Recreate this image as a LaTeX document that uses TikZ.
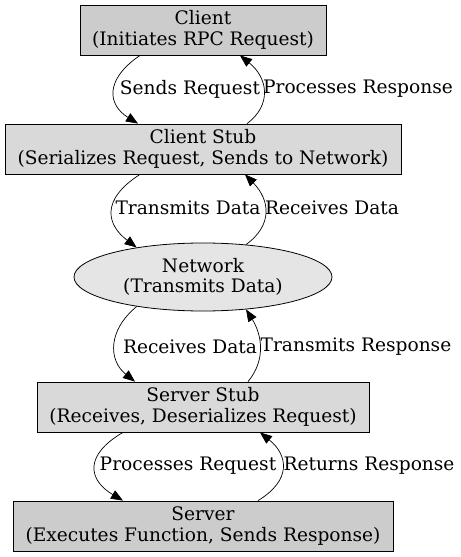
\documentclass[tikz,border=0pt]{standalone}
\usepackage{fontspec}
\setmainfont{DejaVu Serif}
\usetikzlibrary{shapes.geometric,arrows.meta}
\begin{document}
\begin{tikzpicture}[x=1bp,y=-1bp,
  every node/.style={font=\fontsize{18.6bp}{20.5bp}\selectfont, align=center},
  boxnode/.style={draw, line width=0.8pt, inner sep=0pt, minimum height=50bp},
  lbl/.style={inner sep=1pt},
  conn/.style={line width=0.7pt, -{Triangle[length=12bp,width=9.5bp]}}]
\useasboundingbox (0,0) rectangle (461,557);
\node[boxnode, fill=black!20, minimum width=246bp] (client) at (203,30) {Client\\(Initiates RPC Request)};
\node[boxnode, fill=black!15, minimum width=396bp] (cstub) at (203,149) {Client Stub\\(Serializes Request, Sends to Network)};
\node[draw, line width=0.8pt, ellipse, fill=black!10, inner sep=0pt, minimum width=258bp, minimum height=68bp] (net) at (203,277) {Network\\(Transmits Data)};
\node[boxnode, fill=black!15, minimum width=332bp] (sstub) at (203,407) {Server Stub\\(Receives, Deserializes Request)};
\node[boxnode, fill=black!20, minimum width=380bp] (server) at (203,526) {Server\\(Executes Function, Sends Response)};

\draw[conn] ([xshift=-63bp]client.south) .. controls (104,80) and (108,105) .. ([xshift=-65bp]cstub.north);
\draw[conn] ([xshift=44bp]cstub.north) .. controls (272,105) and (268,78) .. ([xshift=37bp]client.south);
\draw[conn] ([xshift=-63bp]cstub.south) .. controls (100,200) and (107,225) .. (net.156);
\draw[conn] (net.37) .. controls (273,225) and (270,200) .. ([xshift=42bp]cstub.south);
\draw[conn] (net.204) .. controls (108,330) and (108,360) .. ([xshift=-68bp]sstub.north);
\draw[conn] ([xshift=45bp]sstub.north) .. controls (266,360) and (262,335) .. (net.-37);
\draw[conn] ([xshift=-80bp]sstub.south) .. controls (84,455) and (88,480) .. ([xshift=-80bp]server.north);
\draw[conn] ([xshift=55bp]server.north) .. controls (292,480) and (288,455) .. ([xshift=57bp]sstub.south);

\node[lbl] (l1) at (190,89) {Sends Request};
\node[lbl] (l2) at (358,89) {Processes Response};
\node[lbl] (l3) at (188,208) {Transmits Data};
\node[lbl] (l4) at (332,208) {Receives Data};
\node[lbl] (l5) at (190,347) {Receives Data};
\node[lbl] (l6) at (356,347) {Transmits Response};
\node[lbl] (l7) at (188,466) {Processes Request};
\node[lbl] (l8) at (369,466) {Returns Response};
\end{tikzpicture}
\end{document}
